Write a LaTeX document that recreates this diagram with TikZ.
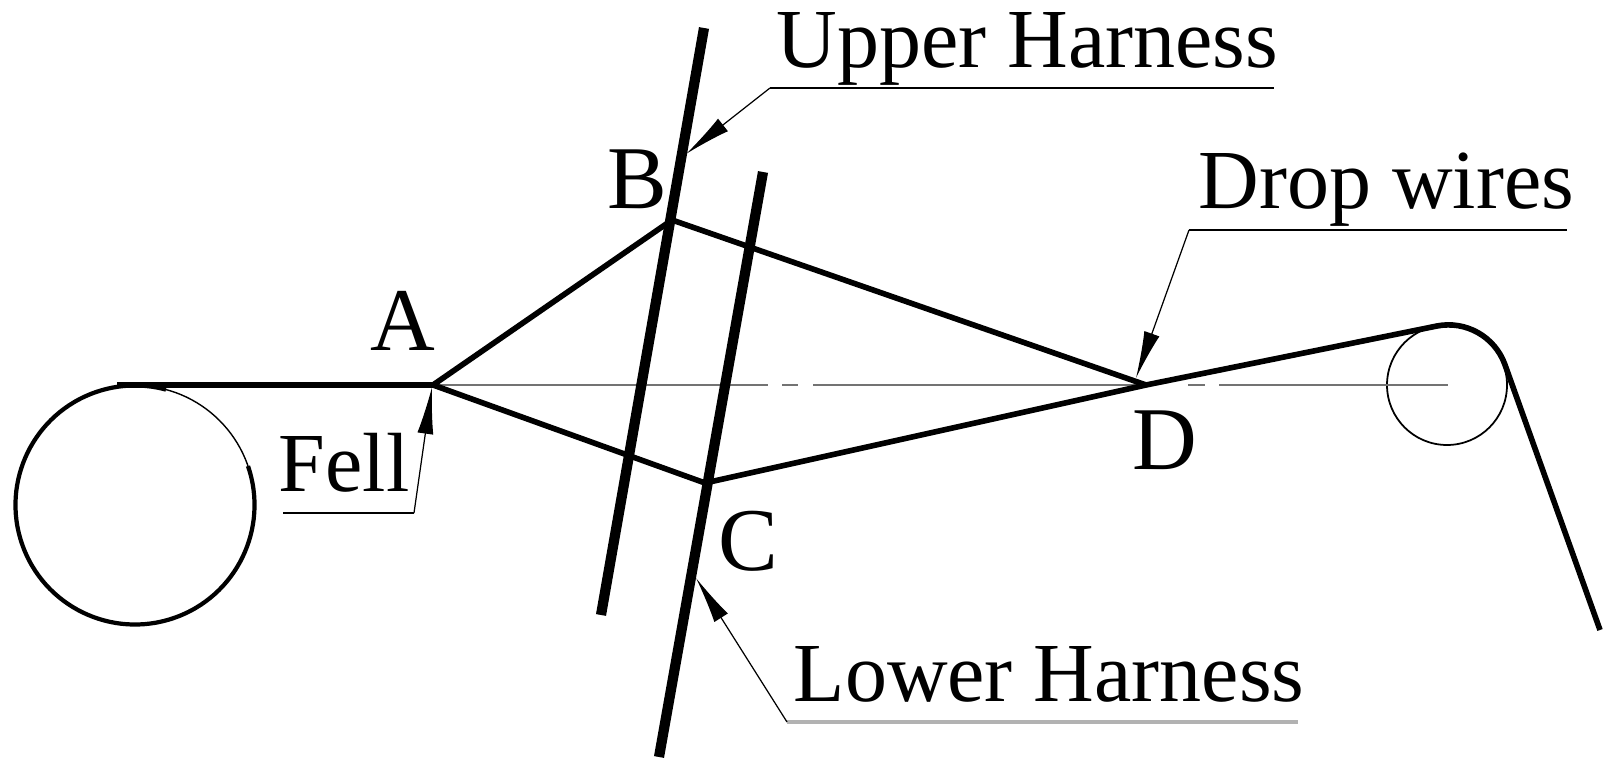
\documentclass[tikz,border=0pt]{standalone}
\usepackage{fontspec}
\setmainfont{Liberation Serif}
\usetikzlibrary{arrows.meta}
\tikzset{
  yarn/.style={line width=1.6pt},
  harness/.style={line width=2.9pt},
  leader/.style={line width=0.35pt,-{Latex[length=0.47cm,width=0.16cm]}},
  underline/.style={line width=0.7pt},
  centerline/.style={line width=0.5pt,black!55},
  pointlabel/.style={anchor=base west,inner sep=0pt,font=\fontsize{25.5}{28}\selectfont},
  partlabel/.style={anchor=base west,inner sep=0pt,font=\fontsize{23.9}{28}\selectfont}
}

\begin{document}
\begin{tikzpicture}
      \useasboundingbox (0,0) rectangle (16.11,7.71);

      \coordinate (A) at (4.33,3.86);
      \coordinate (B) at (6.72,5.51);
      \coordinate (C) at (7.05,2.88);
      \coordinate (D) at (11.46,3.86);
      \coordinate (clothtop) at (1.17,3.86);
      \coordinate (rollerend) at (14.48,3.86);
      \coordinate (rollertop) at (14.37,4.45);
      \coordinate (warpend) at (16.00,1.41);

      \node[pointlabel] (labelA) at (3.70,4.20) {A};
      \node[pointlabel] (labelB) at (6.07,5.62) {B};
      \node[pointlabel] (labelC) at (7.18,2.00) {C};
      \node[pointlabel] (labelD) at (11.32,3.01) {D};
      \node[partlabel] (upper) at (7.76,7.03) {Upper Harness};
      \node[partlabel] (drop) at (11.98,5.62) {Drop wires};
      \node[partlabel] (fell) at (2.78,2.79) {Fell};
      \node[partlabel] (lower) at (7.93,0.69) {Lower Harness};

      % cloth roll and back roller
      \draw[line width=0.4pt] (1.35,2.66) circle (1.195);
      \draw[line width=1.2pt] (1.35,2.66) ++(19:1.195) arc (19:-285:1.195);
      \draw[line width=0.5pt] (14.47,3.86) circle (0.6);

      % centre line
      \draw[centerline] (A) -- (7.68,3.86);
      \draw[centerline] (7.82,3.86) -- (7.98,3.86);
      \draw[centerline] (8.13,3.86) -- (D);
      \draw[centerline] (11.88,3.86) -- (12.05,3.86);
      \draw[centerline] (12.19,3.86) -- (rollerend);

      % harnesses
      \draw[harness] (7.04,7.43) -- (6.01,1.56);
      \draw[harness] (7.63,5.99) -- (6.59,0.14);

      % warp
      \draw[yarn] (clothtop) -- (A) -- (B) -- (D);
      \draw[yarn] (A) -- (C) -- (D) -- (rollertop) arc (101:20:0.6) -- (warpend);

      % leaders
      \coordinate (upperelbow) at (7.70,6.83);
      \coordinate (upperend) at (12.74,6.83);
      \coordinate (upperpoint) at (6.86,6.17);
      \coordinate (dropelbow) at (11.89,5.41);
      \coordinate (dropend) at (15.67,5.41);
      \coordinate (droppoint) at (11.36,3.93);
      \coordinate (fellelbow) at (4.14,2.58);
      \coordinate (fellend) at (2.83,2.58);
      \coordinate (fellpoint) at (4.32,3.84);
      \coordinate (lowerelbow) at (7.87,0.49);
      \coordinate (lowerend) at (12.98,0.49);
      \coordinate (lowerpoint) at (6.96,1.93);

      \draw[underline] (upperelbow) -- (upperend);
      \draw[leader] (upperelbow) -- (upperpoint);
      \draw[underline] (dropelbow) -- (dropend);
      \draw[leader] (dropelbow) -- (droppoint);
      \draw[underline] (fellend) -- (fellelbow);
      \draw[leader] (fellelbow) -- (fellpoint);
      \draw[underline,black!30,line width=1pt] (lowerelbow) -- (lowerend);
      \draw[leader] (lowerelbow) -- (lowerpoint);
\end{tikzpicture}
\end{document}
